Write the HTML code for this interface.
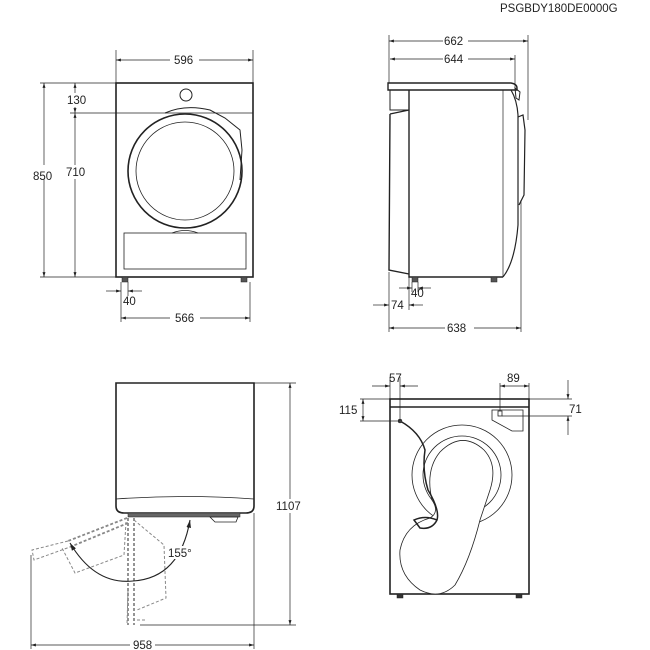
<!DOCTYPE html>
<html><head><meta charset="utf-8"><style>
html,body{margin:0;padding:0;background:#fff;}
svg{display:block;}
text{font-family:"Liberation Sans",Arial,sans-serif;font-size:11.5px;fill:#222;}
</style></head><body>
<svg width="650" height="650" viewBox="0 0 650 650" xmlns="http://www.w3.org/2000/svg">
<defs>
<marker id="a" viewBox="0 0 10 10" refX="10" refY="5" markerWidth="7" markerHeight="7" orient="auto-start-reverse"><path d="M0,2 L10,5 L0,8 z" fill="#222"/></marker>
</defs>
<text x="500" y="12">PSGBDY180DE0000G</text>

<!-- FRONT VIEW -->
<g fill="none" stroke="#222">
<rect x="116" y="83" width="137" height="194" stroke-width="1.6"/>
<line x1="116" y1="113" x2="253" y2="113" stroke-width="0.8"/>
<circle cx="186" cy="95" r="6" stroke-width="1"/>
<path d="M165,113 Q185,104 210,110 L225,118 L240,130 L242,150 L240,180" stroke-width="1"/>
<circle cx="185" cy="171" r="57" stroke-width="1.6"/>
<circle cx="185" cy="171" r="49" stroke-width="0.8"/>
<rect x="124" y="233" width="122" height="36" stroke-width="0.8"/>
<path d="M172,233 Q185,228 198,233" stroke-width="0.8"/>
<rect x="122" y="277" width="6" height="5" fill="#555" stroke-width="0.5"/>
<rect x="241" y="277" width="6" height="5" fill="#555" stroke-width="0.5"/>
<g stroke-width="0.7">
<line x1="116" y1="50" x2="116" y2="83"/><line x1="253" y1="50" x2="253" y2="83"/>
<line x1="116" y1="60" x2="170" y2="60" marker-start="url(#a)"/><line x1="199" y1="60" x2="253" y2="60" marker-end="url(#a)"/>
<line x1="40" y1="83" x2="116" y2="83"/><line x1="40" y1="277" x2="116" y2="277"/>
<line x1="70" y1="113" x2="116" y2="113"/>
<line x1="44" y1="83" x2="44" y2="277" marker-start="url(#a)" marker-end="url(#a)"/>
<line x1="75" y1="83" x2="75" y2="113" marker-start="url(#a)" marker-end="url(#a)"/>
<line x1="75" y1="113" x2="75" y2="277" marker-start="url(#a)" marker-end="url(#a)"/>
<line x1="121" y1="282" x2="121" y2="322"/><line x1="128" y1="282" x2="128" y2="296"/><line x1="250" y1="282" x2="250" y2="322"/>
<line x1="106" y1="291" x2="121" y2="291" marker-end="url(#a)"/><line x1="142" y1="291" x2="128" y2="291" marker-end="url(#a)"/>
<line x1="121" y1="318" x2="170" y2="318" marker-start="url(#a)"/><line x1="200" y1="318" x2="250" y2="318" marker-end="url(#a)"/>
</g>
</g>
<g fill="#fff"><rect x="32" y="165" width="22" height="14"/><rect x="65" y="165" width="22" height="14"/><rect x="65" y="93" width="22" height="14"/></g>
<text x="174" y="64">596</text>
<text x="33" y="180">850</text>
<text x="66" y="176">710</text>
<text x="67" y="104">130</text>
<text x="123" y="305">40</text>
<text x="175" y="322">566</text>

<!-- SIDE VIEW -->
<g fill="none" stroke="#222">
<path d="M388,83 L511,83 Q517,84 517,88 L517,90 L388,90 Z" stroke-width="1.4"/>
<rect x="390" y="90" width="19" height="20" stroke-width="1"/>
<path d="M409,90 L409,277 L503,277" stroke-width="1.4"/>
<line x1="503" y1="90" x2="503" y2="277" stroke-width="0.7"/>
<path d="M390,114 L409,110 M390,114 L389,270 L409,274" stroke-width="1.4"/>
<path d="M511,90 Q517,100 518,115 L518,225 Q515,262 503,277" stroke-width="1.2"/>
<path d="M515,88 L520,92 L519,100 L516,98 Z" stroke-width="1"/>
<path d="M518,117 L523,115 L525,130 L524,195 L519,205" stroke-width="1.2"/>
<rect x="412" y="277" width="6" height="5" fill="#555" stroke-width="0.5"/>
<rect x="491" y="277" width="6" height="5" fill="#555" stroke-width="0.5"/>
<g stroke-width="0.7">
<line x1="389" y1="35" x2="389" y2="83"/><line x1="528" y1="35" x2="528" y2="120"/><line x1="515" y1="55" x2="515" y2="88"/>
<line x1="389" y1="41" x2="443" y2="41" marker-start="url(#a)"/><line x1="468" y1="41" x2="528" y2="41" marker-end="url(#a)"/>
<line x1="390" y1="59" x2="443" y2="59" marker-start="url(#a)"/><line x1="468" y1="59" x2="515" y2="59" marker-end="url(#a)"/>
<line x1="389" y1="272" x2="389" y2="332"/><line x1="521" y1="200" x2="521" y2="332"/>
<line x1="409" y1="277" x2="409" y2="310"/><line x1="412" y1="282" x2="412" y2="292"/><line x1="418" y1="282" x2="418" y2="292"/>
<line x1="399" y1="288" x2="412" y2="288" marker-end="url(#a)"/><line x1="431" y1="288" x2="418" y2="288" marker-end="url(#a)"/>
<line x1="373" y1="305" x2="389" y2="305" marker-end="url(#a)"/><line x1="423" y1="305" x2="409" y2="305" marker-end="url(#a)"/>
<line x1="389" y1="328" x2="445" y2="328" marker-start="url(#a)"/><line x1="474" y1="328" x2="521" y2="328" marker-end="url(#a)"/>
</g>
</g>
<text x="444" y="45">662</text>
<text x="444" y="63">644</text>
<text x="411" y="297">40</text>
<text x="391" y="309">74</text>
<text x="447" y="332">638</text>

<!-- OPEN DOOR VIEW -->
<g fill="none" stroke="#222">
<path d="M116,383 L254,383 L254,506 Q254,513 246,513 L124,513 Q116,513 116,506 Z" stroke-width="1.6"/>
<path d="M116,499 Q185,494 254,499" stroke-width="0.8"/>
<rect x="128" y="513" width="112" height="4" fill="#666" stroke-width="0.5"/>
<path d="M210,517 L238,517 L236,522 L215,522 Z" stroke-width="0.8"/>
<g stroke="#888" stroke-dasharray="3,2" stroke-width="1">
<path d="M127,518 L68,541 M128,523 L70,547" stroke-width="1.8"/>
<path d="M68,541 L32,550 L34,560 L70,547"/>
<path d="M126,522 L124,555 L75,573 L62,548"/>
<path d="M128,518 L128,625 M134,518 L134,625" stroke-width="1.8"/>
<path d="M134,520 L164,545 L166,598 L137,610"/>
<path d="M128,590 L127,625 M137,620 L145,620"/>
</g>
<path d="M70,543 Q95,585 133,581 Q180,578 190,520" stroke-width="1.1" marker-start="url(#a)" marker-end="url(#a)"/>
<g stroke-width="0.7">
<line x1="254" y1="383" x2="296" y2="383"/><line x1="140" y1="625" x2="296" y2="625"/>
<line x1="290" y1="383" x2="290" y2="625" marker-start="url(#a)" marker-end="url(#a)"/>
<line x1="254" y1="513" x2="254" y2="649"/><line x1="31" y1="555" x2="31" y2="649"/>
<line x1="31" y1="645" x2="130" y2="645" marker-start="url(#a)"/><line x1="155" y1="645" x2="254" y2="645" marker-end="url(#a)"/>
</g>
</g>
<rect x="275" y="499" width="30" height="14" fill="#fff"/>
<text x="276" y="510">1107</text>
<rect x="167" y="546" width="26" height="13" fill="#fff"/>
<text x="168" y="557">155°</text>
<text x="133" y="649">958</text>

<!-- BACK VIEW -->
<g fill="none" stroke="#222">
<rect x="390" y="399" width="139" height="195" stroke-width="1.6"/>
<line x1="390" y1="407" x2="529" y2="407" stroke-width="1.4"/>
<path d="M492,410 L523,410 L523,431 L512,431 L492,420 Z" stroke-width="0.8"/>
<rect x="498" y="411" width="4" height="5" stroke-width="0.8"/>
<circle cx="462" cy="475" r="50" stroke-width="0.8"/>
<circle cx="462" cy="475" r="39" stroke-width="0.8"/>
<path d="M432,500 Q425,470 440,452 Q462,430 484,450 Q498,465 490,490 Q485,505 480,520 Q470,560 455,585 Q440,600 420,590 Q398,575 400,550 Q405,525 430,518 Q440,512 432,500 Z" fill="#fff" stroke-width="0.8"/>
<path d="M400,421 Q420,432 425,450 Q422,470 428,490 Q440,510 437,520 Q432,530 420,528 L414,520 Q425,515 437,520" stroke-width="1.5"/>
<circle cx="400" cy="421" r="2" fill="#444" stroke-width="0.5"/>
<rect x="397" y="594" width="6" height="4" fill="#333" stroke-width="0.5"/>
<rect x="516" y="594" width="6" height="4" fill="#333" stroke-width="0.5"/>
<g stroke-width="0.7">
<line x1="390" y1="377" x2="390" y2="399"/><line x1="400" y1="377" x2="400" y2="421"/>
<line x1="372" y1="386" x2="390" y2="386" marker-end="url(#a)"/><line x1="418" y1="386" x2="400" y2="386" marker-end="url(#a)"/>
<line x1="360" y1="399" x2="390" y2="399"/><line x1="360" y1="421" x2="400" y2="421"/>
<line x1="363" y1="399" x2="363" y2="421" marker-start="url(#a)" marker-end="url(#a)"/>
<line x1="500" y1="383" x2="500" y2="411"/><line x1="529" y1="383" x2="529" y2="399"/>
<line x1="500" y1="386" x2="529" y2="386" marker-start="url(#a)" marker-end="url(#a)"/>
<line x1="529" y1="399" x2="572" y2="399"/><line x1="502" y1="416" x2="572" y2="416"/>
<line x1="568" y1="380" x2="568" y2="399" marker-end="url(#a)"/><line x1="568" y1="435" x2="568" y2="416" marker-end="url(#a)"/>
</g>
</g>
<text x="389" y="382">57</text>
<text x="507" y="382">89</text>
<text x="339" y="414">115</text>
<text x="569" y="413">71</text>
</svg>
</body></html>
